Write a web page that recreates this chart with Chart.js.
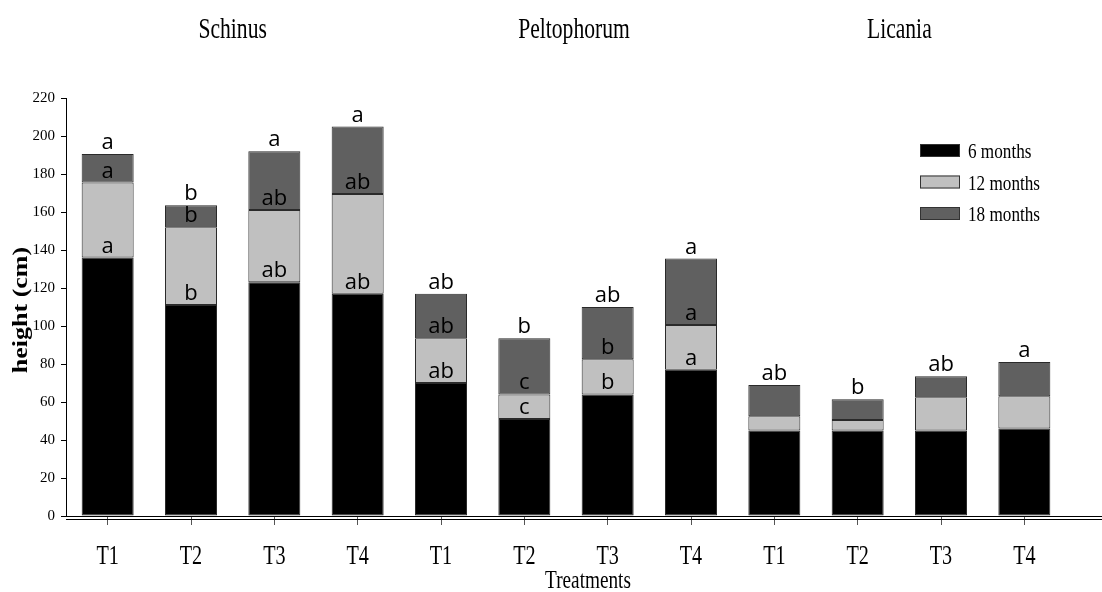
<!DOCTYPE html>
<html>
<head>
<meta charset="utf-8">
<script src="https://cdn.jsdelivr.net/npm/chart.js@4.4.1/dist/chart.umd.min.js"></script>
<style>
  body { margin: 0; background: #fff; }
  #wrap { width: 1102px; height: 592px; }
</style>
</head>
<body>
<div id="wrap"><canvas id="barChart"></canvas></div>
<script>
const species = ['Schinus', 'Peltophorum', 'Licania'];
const treatments = ['T1', 'T2', 'T3', 'T4', 'T1', 'T2', 'T3', 'T4', 'T1', 'T2', 'T3', 'T4'];
const seriesNames = ['6 months', '12 months', '18 months'];

// height increments (cm), stacked
const months6 = [136, 111, 123, 117, 70, 51, 64, 77, 45, 45, 45, 46];
const months12 = [39.5, 41, 38, 52.5, 23.5, 13, 18.5, 23.5, 7.5, 5.5, 17.5, 17];
const months18 = [15, 11.5, 31, 35.5, 23.5, 29.5, 27.5, 35, 16.5, 11, 11, 18];

// significance letters
const letters12 = ['a', 'b', 'ab', 'ab', 'ab', 'c', 'b', 'a', '', '', '', ''];
const letters18 = ['a', 'b', 'ab', 'ab', 'ab', 'c', 'b', 'a', '', '', '', ''];
const lettersTotal = ['a', 'b', 'a', 'a', 'ab', 'b', 'ab', 'a', 'ab', 'b', 'ab', 'a'];

const colors = ['#000000', '#c0c0c0', '#606060'];

// serif text, squeezed horizontally like the original figure
const drawText = (ctx, text, x, y, size, sx, align, base) => {
    ctx.save();
    ctx.translate(x, y);
    ctx.scale(sx, 1);
    ctx.font = size + 'px "Liberation Serif", "Times New Roman", serif';
    ctx.textAlign = align || 'center';
    ctx.textBaseline = base || 'middle';
    ctx.fillStyle = '#000';
    ctx.fillText(text, 0, 0);
    ctx.restore();
};

const overlay = {
    id: 'overlay',
    afterDatasetsDraw(chart) {
        const { ctx, scales: { x, y } } = chart;
        ctx.save();

        // letters on bars
        ctx.font = '22px "Open Sans", sans-serif';
        ctx.textAlign = 'center';
        ctx.textBaseline = 'alphabetic';
        ctx.fillStyle = '#000';
        const m1 = chart.getDatasetMeta(1).data;
        const m2 = chart.getDatasetMeta(2).data;
        m1.forEach((bar, i) => {
            if (letters12[i]) ctx.fillText(letters12[i], bar.x, bar.base - 5);
        });
        m2.forEach((bar, i) => {
            if (letters18[i]) ctx.fillText(letters18[i], bar.x, bar.base - 5);
            if (lettersTotal[i]) ctx.fillText(lettersTotal[i], bar.x, bar.y - 5);
        });

        // double base line
        ctx.strokeStyle = '#000';
        ctx.lineWidth = 1;
        ctx.beginPath();
        ctx.moveTo(x.left, y.bottom + 0.5);
        ctx.lineTo(chart.width, y.bottom + 0.5);
        ctx.moveTo(x.left, y.bottom + 3.5);
        ctx.lineTo(chart.width, y.bottom + 3.5);
        ctx.stroke();
        ctx.restore();

        // y axis title, rotated
        ctx.save();
        ctx.translate(22, (y.top + y.bottom) / 2 + 3);
        ctx.rotate(-Math.PI / 2);
        ctx.scale(1.3, 1);
        ctx.font = 'bold 20px "Liberation Serif", serif';
        ctx.textAlign = 'center';
        ctx.textBaseline = 'middle';
        ctx.fillStyle = '#000';
        ctx.fillText('height (cm)', 0, 0);
        ctx.restore();

        // treatment labels
        treatments.forEach((t, i) => {
            drawText(ctx, t, x.getPixelForTick(i), 557, 28, 0.72);
        });
        drawText(ctx, 'Treatments', 588, 581, 26, 0.74);

        // species titles
        species.forEach((s, g) => {
            let cx = 0;
            for (let k = 0; k < 4; k++) cx += x.getPixelForTick(g * 4 + k);
            drawText(ctx, s, cx / 4 + (g === 1 ? 8 : 0), 38, 30, 0.72, 'center', 'alphabetic');
        });

        // legend
        seriesNames.forEach((name, i) => {
            const by = 144 + i * 31.5;
            ctx.save();
            ctx.fillStyle = colors[i];
            ctx.strokeStyle = '#333';
            ctx.lineWidth = 1;
            ctx.fillRect(920, by, 40, 13);
            ctx.strokeRect(920.5, by + 0.5, 39, 12);
            ctx.restore();
            drawText(ctx, name, 968, by + 8.5, 22, 0.78, 'left');
        });
    }
};

const StartFunc = () => {
    const ctx = document.getElementById('barChart');
    const mk = (label, data, i) => ({
        label: label,
        data: data,
        backgroundColor: colors[i],
        borderColor: '#2a2a2a',
        borderWidth: 1,
        borderSkipped: false,
        barPercentage: 0.624,
        categoryPercentage: 1
    });

    new Chart(ctx, {
        type: 'bar',
        data: {
            labels: treatments,
            datasets: [
                mk(seriesNames[0], months6, 0),
                mk(seriesNames[1], months12, 1),
                mk(seriesNames[2], months18, 2)
            ]
        },
        options: {
            responsive: true,
            maintainAspectRatio: false,
            animation: false,
            layout: { padding: { top: 98, right: 36, left: 0, bottom: 0 } },
            plugins: {
                legend: { display: false },
                tooltip: { enabled: false }
            },
            scales: {
                x: {
                    stacked: true,
                    afterFit: (scale) => { scale.height = 76; },
                    border: { display: false },
                    grid: { offset: false, drawOnChartArea: false, tickLength: 9, color: '#555' },
                    ticks: { display: false }
                },
                y: {
                    stacked: true,
                    min: 0,
                    max: 220,
                    afterFit: (scale) => { scale.width = 66; },
                    border: { display: true, color: '#000' },
                    grid: { drawOnChartArea: false, tickLength: 5, color: '#000' },
                    ticks: {
                        stepSize: 20,
                        padding: 6,
                        color: '#000',
                        font: { family: '"Liberation Serif", serif', size: 15 }
                    },
                    title: { display: false }
                }
            }
        },
        plugins: [overlay]
    });
};

StartFunc();
</script>
</body>
</html>
